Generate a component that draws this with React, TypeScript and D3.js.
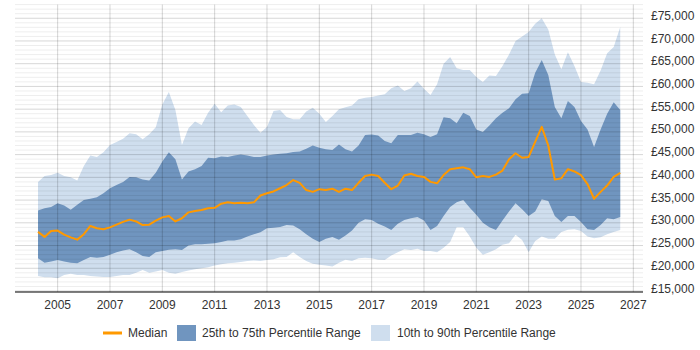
import React from 'react';
import * as d3 from 'd3';

// quarterly sample points, values in £ thousands
const years = d3.range(2004.25, 2026.51, 0.25);

const p90 = [
  39.0, 40.3, 40.5,
  41.0, 40.3, 40.0, 39.3,
  42.5, 44.8, 44.5, 45.5,
  47.1, 47.8, 48.5, 49.7,
  49.5, 48.4, 49.5, 51.0,
  56.0, 58.8, 54.8, 47.1,
  50.8, 52.3, 51.5, 54.2,
  56.2, 54.3, 55.8, 56.0,
  55.5, 53.5, 51.5, 49.8,
  51.1, 54.6, 54.8, 53.3,
  52.8, 52.8, 54.5, 55.3,
  54.0, 52.2, 53.5, 55.0,
  55.4, 55.8, 57.2, 57.5,
  57.7, 58.0, 58.3, 59.6,
  60.2, 59.0, 59.6, 61.1,
  59.5, 58.1, 60.5, 65.0,
  66.5, 64.0, 63.6, 63.6,
  62.1, 61.0, 62.4, 62.3,
  64.5, 67.0, 70.0, 71.0,
  72.0, 73.8, 75.0, 72.5,
  67.0, 63.8, 67.5, 64.5,
  61.0, 60.8, 60.5, 63.5,
  67.3, 68.7, 73.1,
];

const p75 = [
  32.7, 33.2, 33.5,
  34.3, 33.8, 32.9, 34.0,
  35.0, 35.3, 35.6, 36.5,
  37.6, 38.3, 39.0, 40.1,
  40.0, 39.5, 39.3, 41.0,
  43.5, 45.5, 44.0, 39.5,
  41.3, 41.8, 42.5, 44.3,
  44.2, 44.6, 44.5, 44.8,
  45.0, 44.8, 44.5, 44.5,
  44.8, 45.0, 45.2, 45.3,
  45.6, 45.7, 46.3, 47.0,
  46.5, 46.2, 46.0, 47.2,
  46.2, 45.7, 47.0, 49.3,
  49.4, 49.2, 48.0, 47.5,
  49.3, 49.3, 49.3, 49.8,
  49.5, 48.9, 49.5, 53.2,
  53.0, 51.9, 54.2, 53.5,
  50.5, 50.0, 51.4, 53.0,
  54.2, 55.2, 57.2, 58.4,
  58.5, 63.0, 65.8, 62.5,
  55.5, 53.0, 56.8, 55.5,
  52.4, 50.5, 46.7, 50.5,
  54.0, 56.5, 54.8,
];

const median = [
  28.0, 26.9, 28.2,
  28.3, 27.4, 26.8, 26.3,
  27.5, 29.3, 28.8, 28.6,
  29.0, 29.6, 30.2, 30.7,
  30.3, 29.5, 29.6, 30.5,
  31.2, 31.5, 30.3, 31.0,
  32.3, 32.6, 32.8, 33.2,
  33.3, 34.2, 34.5, 34.3,
  34.4, 34.3, 34.5, 36.0,
  36.5, 36.9, 37.6, 38.3,
  39.4, 38.8, 37.2, 36.8,
  37.4, 37.2, 37.5, 36.8,
  37.5, 37.2, 38.8, 40.3,
  40.6, 40.3, 38.8, 37.4,
  38.2, 40.4, 40.8, 40.3,
  40.1, 39.0, 38.7, 40.5,
  41.8, 42.0, 42.2, 41.8,
  40.0, 40.3, 40.1, 40.6,
  41.5, 44.0, 45.3, 44.3,
  44.5, 47.8, 51.1, 47.0,
  39.5, 39.8, 41.8, 41.3,
  40.5, 38.5, 35.3, 36.8,
  38.2, 40.1, 41.0,
];

const p25 = [
  22.2, 21.2, 21.5,
  21.8, 21.5, 21.2, 21.1,
  21.8, 22.5, 22.3, 22.5,
  23.0, 23.5, 23.9, 24.2,
  23.5, 22.7, 22.5, 23.5,
  23.8, 24.1, 24.2, 24.0,
  25.0, 25.3, 25.3, 25.4,
  25.5, 25.8, 26.1, 26.1,
  26.4, 27.0, 27.5, 27.9,
  28.8, 28.9, 29.1, 29.5,
  29.4, 28.6, 27.5, 26.5,
  25.8, 26.5, 26.9, 26.3,
  27.2, 28.3, 30.0, 30.8,
  30.6, 29.8, 29.2, 28.4,
  29.8, 30.6, 31.0, 31.3,
  30.5, 28.4, 29.3, 31.5,
  33.5, 34.5, 35.0, 33.3,
  31.8, 30.0, 29.0, 28.4,
  30.5, 32.5, 34.3, 33.0,
  31.5, 32.5, 35.2, 34.8,
  31.5, 30.2, 31.5, 31.5,
  30.2, 28.6, 28.4, 29.5,
  31.0, 30.8, 31.3,
];

const p10 = [
  18.3, 18.0, 18.0,
  17.8, 18.5, 18.8, 18.5,
  18.5, 18.3, 18.2, 18.1,
  18.1, 18.3, 18.5, 18.5,
  19.0, 19.6, 19.0, 19.3,
  19.6, 19.0, 18.8, 19.2,
  19.5, 19.8, 20.0, 20.2,
  20.6, 20.9, 21.1, 21.2,
  21.4, 21.6, 21.7, 21.6,
  21.8, 22.0, 22.4, 22.5,
  23.5, 22.5, 21.6, 21.0,
  20.8, 20.6, 20.4, 21.2,
  21.9, 21.6, 22.2, 22.3,
  22.2, 21.9, 21.8, 22.8,
  23.5, 24.2, 24.0, 24.3,
  23.8, 23.8, 23.5, 24.5,
  25.8, 29.0, 29.0, 27.0,
  24.5, 23.0, 23.5, 24.2,
  25.2, 25.5, 27.4, 26.2,
  23.5, 26.0, 27.0, 26.5,
  26.5, 28.0, 28.5, 28.6,
  28.2, 27.0, 26.6, 26.8,
  27.5, 28.0, 28.4,
];

const yearTicks = d3.range(2005, 2028, 2);
const salaryTicks = d3.range(15, 76, 5);
const minorTicks = d3.range(15, 79, 1);

const FONT = '"Liberation Sans", Arial, sans-serif';
const ORANGE = '#ff9900';
const DARK = '#7095bf';
const LIGHT = '#cfdeee';

export default function App() {
  const width = 700;
  const height = 350;

  const x = d3.scaleLinear().domain([2003.37, 2027.37]).range([15, 643]);
  const y = d3.scaleLinear().domain([15, 78]).range([291, 4.6]);

  const rows = years.map((t, i) => ({
    t, p10: p10[i], p25: p25[i], med: median[i], p75: p75[i], p90: p90[i],
  }));

  const outer = d3.area<any>().x(d => x(d.t)).y0(d => y(d.p10)).y1(d => y(d.p90));
  const inner = d3.area<any>().x(d => x(d.t)).y0(d => y(d.p25)).y1(d => y(d.p75));
  const line = d3.line<any>().x(d => x(d.t)).y(d => y(d.med));
  const fmt = d3.format(',');

  return (
    <svg width={width} height={height} style={{ position: 'absolute', left: 0, top: 0, background: '#fff' }}>
      <path d={outer(rows) || ''} fill={LIGHT} />
      <path d={inner(rows) || ''} fill={DARK} />

      {/* grid drawn over the bands, translucent */}
      {minorTicks.map(v => (
        <line key={'m' + v} x1={15} x2={643} y1={y(v)} y2={y(v)}
          stroke="#000" strokeOpacity={v % 5 === 0 ? 0.16 : 0.07} />
      ))}
      {yearTicks.map(t => (
        <line key={'v' + t} x1={x(t)} x2={x(t)} y1={4.6} y2={292}
          stroke="#000" strokeOpacity={0.17} />
      ))}

      <path d={line(rows) || ''} fill="none" stroke={ORANGE} strokeWidth={2} strokeLinejoin="round" />

      <line x1={15} x2={643} y1={292} y2={292} stroke="#000" strokeWidth={1} />

      {yearTicks.map(t => (
        <text key={'xt' + t} x={x(t)} y={309} textAnchor="middle" fontFamily={FONT} fontSize={12} fill="#333">{t}</text>
      ))}
      {salaryTicks.map(v => (
        <text key={'yt' + v} x={651} y={y(v) + 1.6} fontFamily={FONT} fontSize={12} fill="#333">£{fmt(v * 1000)}</text>
      ))}

      <g fontFamily={FONT} fontSize={12} fill="#333">
        <line x1={103} x2={122} y1={333} y2={333} stroke={ORANGE} strokeWidth={3} />
        <text x={128} y={337}>Median</text>
        <rect x={177} y={325} width={19} height={16} fill={DARK} />
        <text x={202} y={337}>25th to 75th Percentile Range</text>
        <rect x={371} y={325} width={19} height={16} fill={LIGHT} />
        <text x={397} y={337}>10th to 90th Percentile Range</text>
      </g>
    </svg>
  );
}
